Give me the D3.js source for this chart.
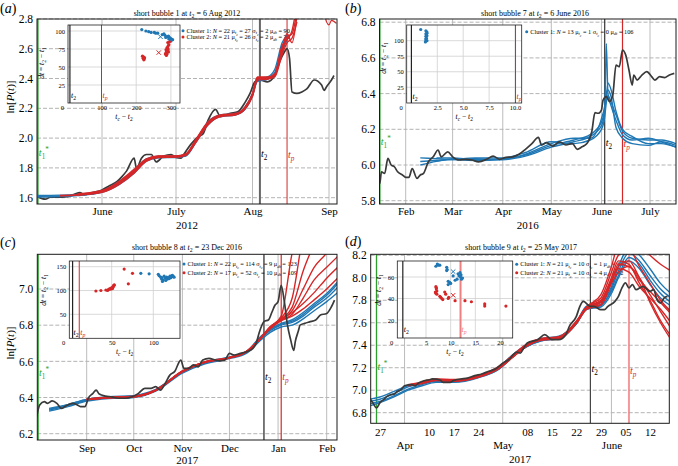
<!DOCTYPE html>
<html><head><meta charset="utf-8">
<script src="https://cdn.jsdelivr.net/npm/d3@7/dist/d3.min.js"></script>
<style>html,body{margin:0;padding:0;background:#fff;}svg{display:block;}</style>
</head><body>
<svg id="chart" width="678" height="466"></svg>
<script>
// ================= DATA =================
// Panel (a) price
const priceA=[["2012-05-06",1.607],["2012-05-09",1.590],["2012-05-11",1.603],["2012-05-14",1.603],["2012-05-18",1.607],["2012-05-21",1.625],["2012-05-23",1.634],["2012-05-25",1.620],["2012-05-28",1.634],["2012-06-01",1.652],["2012-06-04",1.680],["2012-06-07",1.707],["2012-06-09",1.740],["2012-06-11",1.780],["2012-06-14",1.865],["2012-06-15",1.797],["2012-06-17",1.865],["2012-06-19",1.890],["2012-06-21",1.890],["2012-06-23",1.840],["2012-06-26",1.880],["2012-06-29",1.890],["2012-07-01",1.870],["2012-07-03",1.865],["2012-07-04",1.887],["2012-07-07",1.958],["2012-07-10",2.010],["2012-07-12",2.030],["2012-07-14",2.120],["2012-07-17",2.193],["2012-07-19",2.144],["2012-07-23",2.166],["2012-07-26",2.177],["2012-07-29",2.240],["2012-07-31",2.300],["2012-08-02",2.378],["2012-08-04",2.390],["2012-08-07",2.378],["2012-08-10",2.420],["2012-08-12",2.513],["2012-08-14",2.580],["2012-08-15",2.600],["2012-08-16",2.535],["2012-08-17",2.310],["2012-08-19",2.300],["2012-08-21",2.310],["2012-08-23",2.330],["2012-08-26",2.390],["2012-08-29",2.356],["2012-08-30",2.320],["2012-08-31",2.345],["2012-09-02",2.390],["2012-09-03",2.420]];
const fitDatesA=["2012-05-06","2012-05-15","2012-05-22","2012-06-01","2012-06-08","2012-06-14","2012-06-19","2012-06-24","2012-07-01","2012-07-05","2012-07-09","2012-07-14","2012-07-19","2012-07-25","2012-07-29","2012-08-01","2012-08-03","2012-08-07","2012-08-10","2012-08-13","2012-08-15","2012-08-17","2012-08-19"];
const blueFitsA=[
[1.610,1.612,1.618,1.640,1.700,1.770,1.850,1.872,1.875,1.885,1.975,2.100,2.150,2.160,2.200,2.290,2.390,2.400,2.440,2.600,2.680,null,null],
[1.615,1.617,1.622,1.645,1.710,1.780,1.860,1.878,1.880,1.890,1.980,2.110,2.155,2.165,2.210,2.300,2.400,2.410,2.460,2.640,2.690,null,null],
[1.605,1.607,1.614,1.636,1.690,1.765,1.845,1.868,1.870,1.880,1.970,2.090,2.145,2.155,2.195,2.285,2.380,2.395,2.430,2.580,2.660,null,null]];
const redFitsA=[
[null,1.615,1.620,1.640,1.700,1.775,1.850,1.875,1.875,1.890,1.980,2.100,2.150,2.160,2.200,2.290,2.400,2.400,2.420,2.580,2.680,2.700,2.850],
[null,null,1.625,1.648,1.710,1.790,1.860,1.880,1.880,1.895,1.990,2.110,2.155,2.165,2.210,2.300,2.410,2.410,2.430,2.620,2.660,2.720,2.900],
[null,1.612,1.617,1.636,1.690,1.765,1.845,1.870,1.872,1.885,1.970,2.090,2.145,2.155,2.195,2.280,2.390,2.395,2.410,2.560,2.640,2.670,2.780],
[null,null,1.620,1.642,1.705,1.780,1.855,1.878,1.878,1.890,1.985,2.105,2.150,2.160,2.205,2.295,2.405,2.405,2.425,2.600,2.700,2.640,2.820]];
const redTailA=[["2012-08-30",2.86],["2012-08-31",2.78],["2012-09-01",2.76],["2012-09-02",2.79],["2012-09-04",2.77]];
const ticksA=["2012-06-01","2012-07-01","2012-08-01","2012-09-01"];
const tickLabelsA=["June","July","Aug","Sep"];
const yTicksA=[1.6,1.8,2.0,2.2,2.4,2.6,2.8];
const insetBlueA=[[216,102],[228,100],[236,99],[243,98],[252,98],[256,97],[275,95],[283,94],[288,92],[291,92],[296,91],[299,88],[301,89],[303,88],[298,90],[293,93],[285,91],[305,88],[300,86],[294,89],[280,96],[262,97]];
const insetRedA=[[218,65],[220,62],[223,61],[221,64],[224,63],[222,60],[286,74],[286,70],[289,68],[284,68],[291,76],[292,79],[291,84],[296,85],[288,72],[287,66],[293,71],[290,73],[294,81],[289,77],[292,74]];
const legendA=[{N:22,mu:27,sig:2,dt:90},{N:21,mu:26,sig:2,dt:70}];

// Panel (b)
const priceB=[["2016-01-15",6.066],["2016-01-16",5.897],["2016-01-17",5.962],["2016-01-19",5.953],["2016-01-21",6.037],["2016-01-23",6.000],["2016-01-25",5.990],["2016-01-27",5.962],["2016-01-30",5.944],["2016-02-01",5.931],["2016-02-03",5.931],["2016-02-05",5.980],["2016-02-08",5.925],["2016-02-10",5.944],["2016-02-12",5.953],["2016-02-15",6.018],["2016-02-18",6.046],["2016-02-21",6.084],["2016-02-23",6.046],["2016-02-27",6.074],["2016-03-01",6.046],["2016-03-05",6.028],["2016-03-09",6.032],["2016-03-13",6.028],["2016-03-17",6.018],["2016-03-22",6.032],["2016-03-26",6.050],["2016-03-30",6.032],["2016-04-03",6.043],["2016-04-07",6.046],["2016-04-11",6.060],["2016-04-15",6.088],["2016-04-19",6.120],["2016-04-23",6.155],["2016-04-25",6.112],["2016-04-28",6.125],["2016-05-02",6.106],["2016-05-06",6.130],["2016-05-10",6.112],["2016-05-14",6.120],["2016-05-17",6.088],["2016-05-20",6.102],["2016-05-23",6.120],["2016-05-26",6.186],["2016-05-28",6.293],["2016-05-30",6.290],["2016-06-01",6.308],["2016-06-02",6.364],["2016-06-04",6.383],["2016-06-06",6.355],["2016-06-08",6.392],["2016-06-10",6.560],["2016-06-12",6.550],["2016-06-14",6.644],["2016-06-16",6.616],["2016-06-18",6.532],["2016-06-20",6.448],["2016-06-21",6.504],["2016-06-23",6.476],["2016-06-26",6.504],["2016-06-29",6.523],["2016-07-02",6.495],["2016-07-04",6.476],["2016-07-07",6.495],["2016-07-10",6.490],["2016-07-13",6.504],["2016-07-16",6.513]];
const fitDatesB=["2016-02-10","2016-02-20","2016-03-01","2016-03-15","2016-04-01","2016-04-15","2016-05-01","2016-05-15","2016-05-25","2016-06-01","2016-06-03","2016-06-04","2016-06-05","2016-06-07","2016-06-10","2016-06-14","2016-06-20","2016-06-30","2016-07-08","2016-07-17"];
const blueFitsB=[
[6.000,6.020,6.035,6.035,6.030,6.050,6.100,6.130,6.160,6.220,6.300,6.680,6.400,6.330,6.250,6.170,6.140,6.150,6.130,6.100],
[6.040,6.035,6.030,6.025,6.030,6.060,6.120,6.150,6.150,6.260,6.330,6.400,6.420,6.380,6.210,6.150,6.120,6.110,6.130,6.110],
[null,6.040,6.040,6.030,6.035,6.055,6.110,6.140,6.170,6.240,6.310,6.380,6.460,6.420,6.300,6.200,6.160,6.120,6.120,6.100],
[6.020,6.025,6.030,6.040,6.040,6.070,6.130,6.120,6.140,6.200,6.270,6.350,6.390,6.350,6.280,6.190,6.150,6.140,6.140,6.120]];
const ticksB=["2016-02-01","2016-03-01","2016-04-01","2016-05-01","2016-06-01","2016-07-01"];
const tickLabelsB=["Feb","Mar","Apr","May","June","July"];
const yTicksB=[5.8,6.0,6.2,6.4,6.6,6.8];
const insetBlueB=[[0.9,118],[1.4,116],[1.5,114],[1.4,111],[1.5,108],[1.4,107],[1.45,104],[1.4,101],[1.35,98],[1.5,112],[1.45,109],[1.4,103],[1.5,100]];
const legendB=[{N:13,mu:1,sig:0,dt:106}];

// Panel (c)
const priceC=[["2016-07-31",6.290],["2016-08-01",6.331],["2016-08-02",6.359],["2016-08-05",6.377],["2016-08-07",6.368],["2016-08-10",6.381],["2016-08-13",6.368],["2016-08-16",6.340],["2016-08-18",6.350],["2016-08-20",6.359],["2016-08-23",6.368],["2016-08-26",6.359],["2016-08-28",6.350],["2016-08-31",6.350],["2016-09-02",6.396],["2016-09-05",6.423],["2016-09-07",6.441],["2016-09-09",6.419],["2016-09-13",6.408],["2016-09-17",6.404],["2016-09-21",6.396],["2016-09-26",6.396],["2016-09-30",6.404],["2016-10-04",6.423],["2016-10-08",6.451],["2016-10-12",6.451],["2016-10-15",6.460],["2016-10-18",6.441],["2016-10-21",6.478],["2016-10-24",6.524],["2016-10-27",6.543],["2016-10-31",6.607],["2016-11-02",6.561],["2016-11-05",6.561],["2016-11-08",6.580],["2016-11-11",6.570],["2016-11-14",6.607],["2016-11-18",6.617],["2016-11-22",6.607],["2016-11-25",6.603],["2016-11-28",6.607],["2016-12-01",6.644],["2016-12-04",6.635],["2016-12-08",6.644],["2016-12-12",6.653],["2016-12-16",6.672],["2016-12-18",6.699],["2016-12-20",6.760],["2016-12-23",6.820],["2016-12-26",6.830],["2016-12-28",6.870],["2016-12-30",6.910],["2017-01-01",6.930],["2017-01-03",7.020],["2017-01-05",6.930],["2017-01-07",6.800],["2017-01-09",6.720],["2017-01-11",6.660],["2017-01-12",6.710],["2017-01-14",6.770],["2017-01-15",6.800],["2017-01-18",6.810],["2017-01-21",6.818],["2017-01-25",6.828],["2017-01-28",6.856],["2017-02-01",6.865],["2017-02-04",6.902],["2017-02-06",6.939]];
const fitDatesC=["2016-08-08","2016-08-20","2016-09-01","2016-09-15","2016-10-01","2016-10-15","2016-11-01","2016-11-15","2016-12-01","2016-12-12","2016-12-20","2016-12-27","2017-01-03","2017-01-10","2017-01-17","2017-01-24","2017-02-01","2017-02-08"];
const blueFitsC=[
[6.330,6.355,6.385,6.400,6.405,6.440,6.540,6.590,6.620,6.650,6.720,6.770,6.800,6.815,6.850,6.900,6.950,7.010],
[6.335,6.360,6.390,6.400,6.410,6.445,6.545,6.595,6.625,6.655,6.730,6.780,6.810,6.830,6.870,6.920,6.975,7.040],
[6.325,6.350,6.380,6.395,6.400,6.435,6.535,6.585,6.615,6.645,6.710,6.760,6.790,6.800,6.835,6.880,6.930,6.980],
[6.340,6.360,6.390,6.405,6.410,6.440,6.540,6.590,6.620,6.650,6.725,6.775,6.805,6.822,6.860,6.910,6.965,7.030]];
const redFitsC=[
[null,null,6.390,6.400,6.405,6.440,6.545,6.595,6.620,6.655,6.720,6.790,6.850,7.200,7.400,7.600,7.700,7.800],
[null,null,6.392,6.402,6.407,6.442,6.547,6.597,6.622,6.657,6.722,6.792,6.840,6.950,7.300,7.500,7.600,7.700],
[null,null,6.388,6.398,6.403,6.438,6.543,6.593,6.618,6.653,6.718,6.788,6.835,6.900,7.100,7.250,7.400,7.500],
[null,null,6.390,6.400,6.405,6.440,6.545,6.595,6.620,6.655,6.720,6.785,6.830,6.880,7.000,7.120,7.200,7.300],
[null,null,6.391,6.401,6.406,6.441,6.546,6.596,6.621,6.656,6.721,6.782,6.828,6.860,6.950,7.050,7.120,7.180],
[null,null,6.389,6.399,6.404,6.439,6.544,6.594,6.619,6.654,6.719,6.786,6.832,6.870,6.920,6.980,7.060,7.120],
[null,null,6.390,6.400,6.405,6.440,6.545,6.595,6.620,6.655,6.720,6.780,6.825,6.850,6.890,6.940,7.000,7.060]];
const ticksC=["2016-09-01","2016-10-01","2016-11-01","2016-12-01","2017-01-01","2017-02-01"];
const tickLabelsC=["Sep","Oct","Nov","Dec","Jan","Feb"];
const yTicksC=[6.2,6.4,6.6,6.8,7.0];
const insetBlueC=[[85,136],[95,135],[106,134],[107,131],[109,128],[110,124],[111,119],[114,126],[116,128],[118,127],[120,130],[122,131],[124,129],[112,122],[115,121],[117,124],[119,125],[121,127],[113,130],[123,132],[125,128],[110,127]];
const insetRedC=[[31,99],[37,100],[43,101],[46,102],[49,103],[51,104],[52,108],[53,112],[52,110],[50,106],[48,104],[65,145],[70,114],[75,136],[45,100],[53,111],[47,103]];
const legendC=[{N:22,mu:114,sig:9,dt:123},{N:17,mu:52,sig:10,dt:109}];

// Panel (d)
const priceD=[["2017-03-24",6.930],["2017-03-25",6.886],["2017-03-26",6.842],["2017-03-27",6.890],["2017-03-28",6.916],["2017-03-29",6.945],["2017-03-30",6.960],["2017-03-31",6.965],["2017-04-01",6.990],["2017-04-02",7.005],["2017-04-03",7.040],["2017-04-05",7.050],["2017-04-06",7.040],["2017-04-07",7.064],["2017-04-08",7.078],["2017-04-10",7.093],["2017-04-11",7.100],["2017-04-13",7.093],["2017-04-14",7.070],["2017-04-16",7.070],["2017-04-17",7.087],["2017-04-19",7.100],["2017-04-21",7.108],["2017-04-23",7.130],["2017-04-25",7.144],["2017-04-27",7.168],["2017-04-29",7.190],["2017-05-01",7.240],["2017-05-03",7.280],["2017-05-04",7.316],["2017-05-05",7.340],["2017-05-06",7.330],["2017-05-07",7.376],["2017-05-08",7.420],["2017-05-11",7.450],["2017-05-13",7.494],["2017-05-15",7.450],["2017-05-17",7.450],["2017-05-19",7.494],["2017-05-20",7.568],["2017-05-22",7.657],["2017-05-23",7.746],["2017-05-24",7.790],["2017-05-26",7.746],["2017-05-27",7.746],["2017-05-29",7.716],["2017-05-30",7.716],["2017-05-31",7.746],["2017-06-02",7.790],["2017-06-03",7.835],["2017-06-04",7.910],["2017-06-05",7.954],["2017-06-06",7.910],["2017-06-07",7.940],["2017-06-08",7.894],["2017-06-10",7.924],["2017-06-12",7.880],["2017-06-13",7.894],["2017-06-14",7.805],["2017-06-15",7.775],["2017-06-16",7.820],["2017-06-17",7.835]];
const fitDatesD=["2017-03-24","2017-03-27","2017-03-31","2017-04-04","2017-04-08","2017-04-12","2017-04-17","2017-04-24","2017-04-30","2017-05-04","2017-05-08","2017-05-12","2017-05-17","2017-05-22","2017-05-25","2017-05-29","2017-06-01","2017-06-03","2017-06-06","2017-06-09","2017-06-12","2017-06-15","2017-06-18"];
const blueFitsD=[
[6.900,6.920,6.970,7.030,7.060,7.090,7.080,7.120,7.200,7.310,7.400,7.450,7.470,7.600,7.740,7.760,7.880,8.020,8.180,8.120,7.980,7.860,7.780],
[6.880,6.900,6.950,7.010,7.050,7.080,7.075,7.115,7.190,7.300,7.390,7.440,7.460,7.590,7.730,7.750,7.900,8.060,8.220,8.150,8.020,7.900,7.820],
[6.920,6.940,6.990,7.040,7.070,7.095,7.085,7.125,7.210,7.320,7.410,7.460,7.480,7.610,7.750,7.780,7.920,8.100,8.260,8.200,8.080,7.950,7.860],
[6.860,6.890,6.940,7.000,7.040,7.070,7.070,7.110,7.190,7.300,7.390,7.440,7.460,7.590,7.720,7.740,7.860,8.000,8.150,8.080,7.940,7.820,7.750]];
const redFitsD=[
[null,null,null,7.050,7.070,7.090,7.085,7.120,7.200,7.300,7.400,7.450,7.460,7.600,7.730,7.780,7.980,8.100,8.150,8.000,7.850,7.700,7.550],
[null,null,null,null,7.070,7.095,7.090,7.125,7.210,7.310,7.410,7.455,7.470,7.610,7.740,7.800,8.000,8.150,8.120,7.950,7.800,7.620,7.480],
[null,null,null,7.040,7.060,7.085,7.080,7.115,7.195,7.295,7.395,7.445,7.455,7.595,7.720,7.760,7.950,8.050,8.100,7.980,7.880,7.780,7.680],
[null,null,null,null,7.075,7.100,7.095,7.130,7.215,7.315,7.415,7.460,7.475,7.615,7.745,7.820,8.050,8.200,8.250,8.100,7.950,7.800,7.700],
[null,null,null,7.045,7.065,7.090,7.085,7.120,7.200,7.300,7.400,7.450,7.465,7.600,7.735,7.790,7.970,8.080,8.050,7.920,7.820,7.720,7.600],
[null,null,null,null,7.070,7.090,7.088,7.122,7.205,7.305,7.405,7.452,7.468,7.605,7.740,7.850,8.100,8.300,8.350,8.300,8.200,8.120,8.060],
[null,null,null,null,7.068,7.092,7.086,7.118,7.202,7.302,7.402,7.448,7.462,7.602,7.738,7.760,7.960,8.120,8.100,8.000,7.780,7.600,7.450]];
const minorTicksD=["2017-03-27","2017-04-10","2017-04-17","2017-04-24","2017-05-08","2017-05-15","2017-05-22","2017-05-29","2017-06-05","2017-06-12"];
const minorLabelsD=["27","10","17","24","08","15","22","29","05","12"];
const majorTicksD=["2017-04-03","2017-05-01","2017-06-01"];
const majorLabelsD=["Apr","May","June"];
const yTicksD=[6.8,7.0,7.2,7.4,7.6,7.8,8.0,8.2];
const insetBlueD=[[7.0,70],[7.3,72],[7.8,71],[7.5,71],[9.2,69],[9.3,67],[9.2,66],[9.5,56],[9.5,53],[9.8,55],[10.0,54],[10.5,61],[10.9,57],[11.5,63],[11.7,61],[12.0,60],[12.2,58],[12.4,59],[11.9,64],[12.1,62],[11.3,58]];
const insetRedD=[[7.0,51],[7.1,49],[7.2,47],[7.0,45],[7.2,44],[7.8,42],[8.2,40],[8.0,41],[8.8,46],[9.5,40],[9.6,41],[10.9,38],[12.9,38],[14.2,37],[16.9,35],[16.9,33],[21.2,33],[7.1,50],[6.9,46],[9.0,44],[8.4,39]];
const legendD=[{N:21,mu:10,sig:1,dt:60},{N:21,mu:10,sig:4,dt:42}];

// ================= DRAWING =================
const SERIF="'Liberation Serif','Times New Roman',Times,serif";
const BLUE="#1f77b4", RED="#d62728", GREEN="#2ca02c";
const parse=d3.timeParse("%Y-%m-%d");
const svg=d3.select("#chart").attr("font-family",SERIF);
svg.append("rect").attr("width",678).attr("height",466).attr("fill","#fff");
let clipN=0;
function clip(x0,y0,x1,y1){const id="cl"+(clipN++);svg.append("clipPath").attr("id",id).append("rect").attr("x",x0).attr("y",y0).attr("width",x1-x0).attr("height",y1-y0);return `url(#${id})`;}
function rich(sel,segs,fs){
  let shift=0;
  segs.forEach(s=>{
    const st=s[1]||"";
    const sp=sel.append("tspan").text(s[0]);
    let tgt=0;
    if(st.includes("sub")) tgt=fs*0.28;
    if(st.includes("sup")) tgt=-fs*0.42;
    if(st.includes("ss")) tgt=fs*0.45;
    sp.attr("dy",tgt-shift); shift=tgt;
    if(st.includes("ss")) sp.attr("font-size",fs*0.55);
    else if(st.includes("sub")||st.includes("sup")) sp.attr("font-size",fs*0.72);
    if(st.includes("i")) sp.attr("font-style","italic");
  });
}
function txt(g,x,y,segs,fs,o={}){
  const t=g.append("text").attr("x",x).attr("y",y).attr("font-size",fs).attr("fill",o.fill||"#000").attr("text-anchor",o.anchor||"start");
  if(o.rotate) t.attr("transform",`rotate(-90,${x},${y})`);
  rich(t,segs,fs); return t;
}
function legend(g,x,y,dy,items,colors,fs){
  items.forEach((it,k)=>{
    const yy=y+k*dy;
    g.append("circle").attr("cx",x).attr("cy",yy).attr("r",1.5).attr("fill",colors[k]);
    txt(g,x+3.5,yy+2,[[`Cluster ${k+1}: `],["N","i"],[` = ${it.N} μ`],["t","isub"],["c","iss"],[` = ${it.mu} σ`],["t","isub"],["c","iss"],[` = ${it.sig} μ`],["dt","isub"],[` = ${it.dt}`]],fs);
  });
}

function panel(P){
  const [x0,x1,y0,y1]=P.frame;
  const x=d3.scaleTime().domain([parse(P.xCal[0][0]),parse(P.xCal[1][0])]).range([P.xCal[0][1],P.xCal[1][1]]);
  const y=d3.scaleLinear().domain([P.yCal[0][0],P.yCal[1][0]]).range([P.yCal[0][1],P.yCal[1][1]]);
  const g=svg.append("g");
  const cp=clip(x0,y0,x1,y1);
  g.append("g").selectAll("line").data(P.yTicks).join("line")
    .attr("x1",x0).attr("x2",x1).attr("y1",d=>y(d)).attr("y2",d=>y(d))
    .attr("stroke","#a0a0a0").attr("stroke-width",0.8).attr("stroke-dasharray","4,2");
  g.append("g").selectAll("line").data(P.xGrid).join("line")
    .attr("x1",d=>x(parse(d))).attr("x2",d=>x(parse(d))).attr("y1",y0).attr("y2",y1)
    .attr("stroke","#b4b4b4").attr("stroke-width",0.9);
  const ya=d3.axisLeft(y).tickValues(P.yTicks).tickFormat(d3.format(".1f")).tickSize(0).tickPadding(4);
  g.append("g").attr("transform",`translate(${x0},0)`).call(ya).call(s=>{s.select(".domain").remove();s.attr("font-family",SERIF).attr("font-size",11.5);s.selectAll("text").attr("fill","#000");});
  P.xAxes.forEach(ax=>{
    const xa=d3.axisBottom(x).tickValues(ax.ticks.map(parse)).tickFormat((d,i)=>ax.labels[i]).tickSize(0).tickPadding(ax.pad);
    g.append("g").attr("transform",`translate(0,${y1})`).call(xa).call(s=>{s.select(".domain").remove();s.attr("font-family",SERIF).attr("font-size",11);s.selectAll("text").attr("fill","#000");});
  });
  txt(g,(x0+x1)/2,P.yearY,[[P.year]],11,{anchor:"middle"});
  const gl=g.append("g").attr("clip-path",cp);
  P.vlines.forEach(v=>{
    gl.append("line").attr("x1",x(parse(v.d))).attr("x2",x(parse(v.d))).attr("y1",y0).attr("y2",y1)
      .attr("stroke",v.c).attr("stroke-width",v.w).attr("stroke-opacity",v.op||1);
  });
  legend(g,P.leg[0],P.leg[1],P.leg[2],P.legItems,P.legColors,6.3);
  const line=d3.line().defined(d=>d[1]!=null).x(d=>x(parse(d[0]))).y(d=>y(d[1])).curve(d3.curveMonotoneX);
  const gd=g.append("g").attr("clip-path",cp);
  const drawPrice=()=>gd.append("path").datum(P.price).attr("d",line).attr("fill","none").attr("stroke","#3a3a3a").attr("stroke-width",1.7);
  if(P.priceFirst) drawPrice();
  P.blue.forEach(vals=>gd.append("path").datum(P.fitDates.map((d,i)=>[d,vals[i]])).attr("d",line).attr("fill","none").attr("stroke",BLUE).attr("stroke-width",1.4));
  P.red.forEach(vals=>gd.append("path").datum(P.fitDates.map((d,i)=>[d,vals[i]])).attr("d",line).attr("fill","none").attr("stroke",RED).attr("stroke-width",1.4));
  (P.extraRed||[]).forEach(arr=>gd.append("path").datum(arr).attr("d",line).attr("fill","none").attr("stroke",RED).attr("stroke-width",1.2));
  if(!P.priceFirst) drawPrice();
  g.append("rect").attr("x",x0).attr("y",y0).attr("width",x1-x0).attr("height",y1-y0).attr("fill","none").attr("stroke","#1a1a1a").attr("stroke-width",1);
  P.vlabels.forEach(l=>txt(g,x(parse(l.d))+l.dx,l.y,l.segs,10,{fill:l.c}));
  txt(g,P.title[0],P.title[1],P.title[2],8,{anchor:"middle"});
  txt(g,P.plabel[0],P.plabel[1],[["("],[P.plabel[2],"i"],[")"]],14);
  if(P.ylabel) txt(g,P.ylabel[0],P.ylabel[1],[["ln["],["P","i"],["("],["t","i"],[")]"]],11,{anchor:"middle",rotate:true});
}

function inset(I){
  const [x0,x1,y0,y1]=I.frame;
  const x=d3.scaleLinear().domain([I.xCal[0][0],I.xCal[1][0]]).range([I.xCal[0][1],I.xCal[1][1]]);
  const y=d3.scaleLinear().domain([I.yCal[0][0],I.yCal[1][0]]).range([I.yCal[0][1],I.yCal[1][1]]);
  const g=svg.append("g");
  g.append("rect").attr("x",x0).attr("y",y0).attr("width",x1-x0).attr("height",y1-y0).attr("fill","#fff");
  const cp=clip(x0,y0,x1,y1);
  const gi=g.append("g").attr("clip-path",cp);
  gi.selectAll(".vg").data(I.xTicks).join("line").attr("x1",d=>x(d)).attr("x2",d=>x(d)).attr("y1",y0).attr("y2",y1).attr("stroke","#cfcfcf").attr("stroke-width",0.8);
  gi.selectAll(".hg").data(I.yTicks).join("line").attr("x1",x0).attr("x2",x1).attr("y1",d=>y(d)).attr("y2",d=>y(d)).attr("stroke","#cfcfcf").attr("stroke-width",0.8);
  gi.append("line").attr("x1",x(I.t2)).attr("x2",x(I.t2)).attr("y1",y0).attr("y2",y1).attr("stroke","#222").attr("stroke-width",1.2);
  gi.append("line").attr("x1",x(I.tp)).attr("x2",x(I.tp)).attr("y1",y0).attr("y2",y1).attr("stroke",I.tpColor).attr("stroke-width",I.tpW||1);
  gi.selectAll(".p1").data(I.pts1).join("circle").attr("cx",d=>x(d[0])).attr("cy",d=>y(d[1])).attr("r",1.6).attr("fill",BLUE);
  gi.selectAll(".p2").data(I.pts2||[]).join("circle").attr("cx",d=>x(d[0])).attr("cy",d=>y(d[1])).attr("r",1.6).attr("fill",RED);
  (I.crosses||[]).forEach(c=>{
    const cx=x(c[0]),cy=y(c[1]),s=2.2;
    gi.append("path").attr("d",`M${cx-s},${cy-s}L${cx+s},${cy+s}M${cx-s},${cy+s}L${cx+s},${cy-s}`).attr("stroke",c[2]).attr("stroke-width",1);
  });
  g.append("rect").attr("x",x0).attr("y",y0).attr("width",x1-x0).attr("height",y1-y0).attr("fill","none").attr("stroke","#222").attr("stroke-width",0.8);
  const xa=d3.axisBottom(x).tickValues(I.xTicks).tickFormat(d3.format(I.xFmt)).tickSize(0).tickPadding(2.5);
  g.append("g").attr("transform",`translate(0,${y1})`).call(xa).call(s=>{s.select(".domain").remove();s.attr("font-family",SERIF).attr("font-size",6.5);s.selectAll("text").attr("fill","#000");});
  const ya=d3.axisLeft(y).tickValues(I.yTicks).tickFormat(d3.format("d")).tickSize(0).tickPadding(3);
  g.append("g").attr("transform",`translate(${x0},0)`).call(ya).call(s=>{s.select(".domain").remove();s.attr("font-family",SERIF).attr("font-size",6.5);s.selectAll("text").attr("fill","#000");});
  txt(g,x0-4,y1+7,[["0"]],6.5,{anchor:"end"});
  txt(g,(x0+x1)/2,y1+16,[["t","i"],["c","isub"],[" − "],["t","i"],["2","sub"]],7.5,{anchor:"middle"});
  txt(g,I.yl[0],I.yl[1],[["dt","i"],[" = "],["t","i"],["2","sub"],[" − "],["t","i"],["1","sub"]],7.5,{anchor:"middle",rotate:true});
  txt(g,x(I.t2)+1,I.lblY,[["t","i"],["2","sub"]],8);
  txt(g,x(I.tp)+1,I.lblY,[["t","i"],["p","isub"]],8,{fill:I.tpColor});
}

const t1lab=[["t","i"],["1","sub"],["*","sup"]];
const t2lab=[["t","i"],["2","sub"]];
const tplab=[["t","i"],["p","isub"]];

// ---- Panel (a)
panel({frame:[37,337,19,204],xCal:[["2012-06-01",102],["2012-09-01",329]],yCal:[[1.6,197.7],[2.8,18.9]],
  yTicks:yTicksA,xGrid:ticksA,xAxes:[{ticks:ticksA,labels:tickLabelsA,pad:3}],year:"2012",yearY:229,
  vlines:[{d:"2012-05-06",c:GREEN,w:1.5},{d:"2012-08-04",c:"#666",w:2},{d:"2012-08-15",c:RED,w:1}],
  vlabels:[{d:"2012-05-06",dx:1,y:156,segs:t1lab,c:GREEN},{d:"2012-08-04",dx:1,y:157,segs:t2lab,c:"#000"},{d:"2012-08-15",dx:1,y:158,segs:tplab,c:RED}],
  leg:[183,30.7,6.2],legItems:legendA,legColors:[BLUE,RED],
  price:priceA,priceFirst:true,fitDates:fitDatesA,blue:blueFitsA,red:redFitsA,extraRed:[redTailA],
  title:[187,16,[["short bubble 1 at "],["t","i"],["2","sub"],[" = 6 Aug 2012"]]],plabel:[0,13,"a"],ylabel:[14,97]});
inset({frame:[68,180,25,103],xCal:[[100,101.5],[300,170.9]],yCal:[[0,103],[100,31]],xTicks:[100,200,300],yTicks:[25,50,75,100],xFmt:"d",
  t2:9,tp:100,tpColor:RED,pts1:insetBlueA,pts2:insetRedA,crosses:[[270,92,BLUE],[265,70,RED]],yl:[44,63],lblY:98});

// ---- Panel (b)
panel({frame:[379.5,676,19,204],xCal:[["2016-02-01",405.7],["2016-07-01",650]],yCal:[[5.8,200.7],[6.8,22.2]],
  yTicks:yTicksB,xGrid:ticksB,xAxes:[{ticks:ticksB,labels:tickLabelsB,pad:3}],year:"2016",yearY:229,
  vlines:[{d:"2016-01-16",c:GREEN,w:1.5},{d:"2016-06-03",c:"#333",w:1.2},{d:"2016-06-14",c:RED,w:1.2}],
  vlabels:[{d:"2016-01-16",dx:1,y:145,segs:t1lab,c:GREEN},{d:"2016-06-03",dx:1,y:146,segs:t2lab,c:"#000"},{d:"2016-06-14",dx:1,y:147,segs:tplab,c:RED}],
  leg:[526.7,31.7,6.2],legItems:legendB,legColors:[BLUE],
  price:priceB,priceFirst:false,fitDates:fitDatesB,blue:blueFitsB,red:[],
  title:[535,16,[["short bubble 7 at "],["t","i"],["2","sub"],[" = 6 June 2016"]]],plabel:[345,13,"b"],ylabel:null});
inset({frame:[406.7,521.7,25,103],xCal:[[2.5,437.3],[10,515]],yCal:[[0,102.8],[100,40.7]],xTicks:[2.5,5,7.5,10],yTicks:[25,50,75,100],xFmt:".1f",
  t2:0,tp:10.05,tpColor:RED,pts1:insetBlueB,pts2:[],yl:[386,58],lblY:99});

// ---- Panel (c)
panel({frame:[37.3,337,254.3,440],xCal:[["2016-09-01",86.7],["2017-02-01",326.7]],yCal:[[6.2,433.7],[7.0,289]],
  yTicks:yTicksC,xGrid:ticksC,xAxes:[{ticks:ticksC,labels:tickLabelsC,pad:4}],year:"2017",yearY:464,
  vlines:[{d:"2016-08-01",c:GREEN,w:1.5},{d:"2016-12-23",c:"#222",w:1.2},{d:"2017-01-03",c:RED,w:1.2}],
  vlabels:[{d:"2016-08-01",dx:1,y:376,segs:t1lab,c:GREEN},{d:"2016-12-23",dx:1,y:380,segs:t2lab,c:"#000"},{d:"2017-01-03",dx:1,y:380,segs:tplab,c:RED}],
  leg:[184,264,8.7],legItems:legendC,legColors:[BLUE,RED],
  price:priceC,priceFirst:false,fitDates:fitDatesC,blue:blueFitsC,red:redFitsC,
  title:[187,250,[["short bubble 8 at "],["t","i"],["2","sub"],[" = 23 Dec 2016"]]],plabel:[0,247,"c"],ylabel:[14,343]});
inset({frame:[69.3,180,261,338.3],xCal:[[50,111.7],[100,153.3]],yCal:[[50,314.3],[150,266.7]],xTicks:[50,100],yTicks:[50,100,150],xFmt:"d",
  t2:3,tp:11,tpColor:RED,pts1:insetBlueC,pts2:insetRedC,yl:[46,290],lblY:335});

// ---- Panel (d)
panel({frame:[370.7,669.3,254.3,423.3],xCal:[["2017-03-27",380],["2017-06-12",650]],yCal:[[6.8,412.7],[8.2,255.3]],
  yTicks:yTicksD,xGrid:majorTicksD,xAxes:[{ticks:minorTicksD,labels:minorLabelsD,pad:5},{ticks:majorTicksD,labels:majorLabelsD,pad:18}],year:"2017",yearY:463,
  vlines:[{d:"2017-03-26",c:GREEN,w:1.3},{d:"2017-05-26",c:"#444",w:1.2},{d:"2017-06-06",c:"#f08080",w:2,op:0.8}],
  vlabels:[{d:"2017-03-26",dx:1,y:370,segs:t1lab,c:GREEN},{d:"2017-05-26",dx:1,y:372,segs:t2lab,c:"#000"},{d:"2017-06-06",dx:1,y:374,segs:tplab,c:RED}],
  leg:[516.7,264.3,8.4],legItems:legendD,legColors:[BLUE,RED],
  price:priceD,priceFirst:false,fitDates:fitDatesD,blue:blueFitsD,red:redFitsD,
  title:[521,250,[["short bubble 9 at "],["t","i"],["2","sub"],[" = 25 May 2017"]]],plabel:[345,246,"d"],ylabel:null});
inset({frame:[397.3,512.7,261,338],xCal:[[5,426],[20,500]],yCal:[[20,320],[60,277]],xTicks:[5,10,15,20],yTicks:[20,40,60],xFmt:"d",
  t2:0.3,tp:12,tpColor:"#f08080",tpW:2,pts1:insetBlueD,pts2:insetRedD,crosses:[[10.5,65,BLUE],[10.5,43,RED]],yl:[381,290],lblY:332});
</script>
</body></html>
